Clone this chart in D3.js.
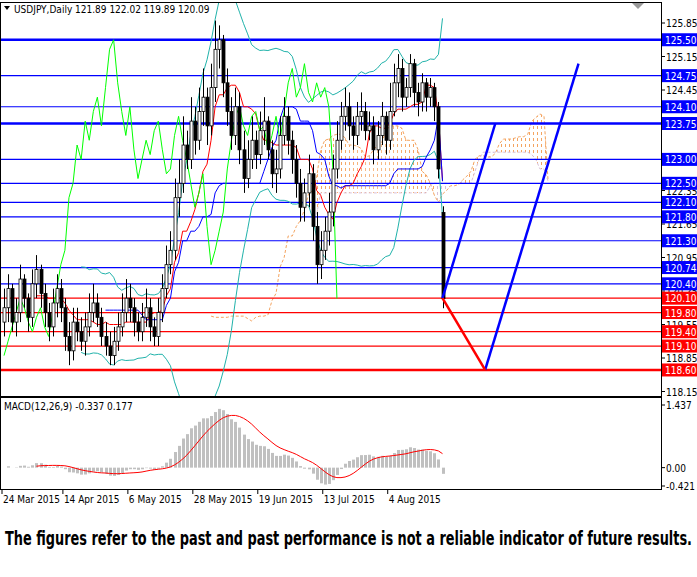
<!DOCTYPE html>
<html><head><meta charset="utf-8">
<script src="https://cdn.jsdelivr.net/npm/d3@7"></script>
<style>body{margin:0;background:#fff}svg{display:block}text{font-family:"DejaVu Sans Condensed","Liberation Sans Narrow",sans-serif}</style>
</head><body><svg id="c" width="697" height="577"></svg>
<script>
const opens=[119.6,119.9,120.3,119.6,119.8,120.5,120.1,119.7,120.4,120.7,120.2,119.8,119.5,120.0,120.3,119.9,119.3,119.0,119.6,119.4,119.2,119.5,119.8,120.0,119.7,119.3,119.1,118.9,119.2,119.5,119.8,120.1,119.9,119.6,119.4,119.7,119.9,119.5,119.3,119.8,120.3,120.8,121.1,122.2,122.5,123.3,123.0,123.8,123.4,124.0,124.3,123.7,124.5,125.3,125.5,124.6,124.0,123.5,124.1,123.2,122.6,123.0,123.4,123.1,123.6,123.8,123.2,122.7,122.8,123.5,123.9,123.4,123.0,122.5,122.0,122.3,122.7,121.6,120.8,121.1,121.5,121.9,122.8,123.4,123.9,124.1,123.7,123.5,123.9,124.0,123.6,123.7,123.2,123.5,123.9,123.4,124.0,124.6,124.9,124.3,124.5,125.0,124.4,124.2,124.6,124.3,124.5,124.1,121.89];
const highs=[120.3,120.6,120.4,120.1,120.8,120.6,120.2,120.7,121.0,120.8,120.4,120.0,120.3,120.6,120.5,120.1,119.6,119.9,119.9,119.7,119.8,120.2,120.4,120.2,119.9,119.6,119.4,119.5,119.8,120.2,120.5,120.4,120.1,119.8,120.0,120.3,120.1,119.7,120.1,120.6,121.2,121.5,122.6,123.0,123.9,123.6,124.3,124.1,124.5,124.9,124.5,125.0,125.9,125.8,125.6,124.9,124.3,124.5,124.4,123.6,123.4,123.9,123.6,124.0,124.3,123.9,123.4,123.2,123.9,124.3,124.1,123.6,123.3,122.8,122.6,123.1,122.9,121.9,121.5,121.8,122.3,123.1,123.8,124.2,124.5,124.4,123.9,124.2,124.4,124.2,124.0,123.9,123.8,124.2,124.0,124.6,125.0,125.2,125.1,124.7,125.2,125.1,124.6,124.8,124.7,124.7,124.6,124.2,122.02];
const lows=[119.3,119.6,119.4,119.3,119.6,119.9,119.4,119.5,120.1,119.9,119.5,119.2,119.3,119.7,119.6,119.0,118.7,118.8,119.2,119.0,118.9,119.3,119.6,119.5,119.1,118.9,118.7,118.7,119.0,119.3,119.6,119.6,119.3,119.2,119.2,119.5,119.2,119.1,119.1,119.6,120.1,120.6,120.9,121.8,122.3,122.8,122.8,123.1,123.2,123.7,123.3,123.5,124.2,124.9,124.3,123.7,123.2,123.3,122.9,122.3,122.4,122.8,122.8,122.9,123.3,123.0,122.4,122.3,122.6,123.3,123.1,122.7,122.2,121.7,121.7,122.0,121.3,120.4,120.5,120.9,121.2,121.6,122.6,123.2,123.6,123.4,123.2,123.3,123.6,123.4,123.4,122.9,123.0,123.3,123.1,123.2,123.9,124.3,124.0,124.1,124.3,124.1,123.9,124.0,124.0,124.1,123.8,122.6,119.89];
const closes=[119.9,120.3,119.6,119.8,120.5,120.1,119.7,120.4,120.7,120.2,119.8,119.5,120.0,120.3,119.9,119.3,119.0,119.6,119.4,119.2,119.5,119.8,120.0,119.7,119.3,119.1,118.9,119.2,119.5,119.8,120.1,119.9,119.6,119.4,119.7,119.9,119.5,119.3,119.8,120.3,120.8,121.1,122.2,122.5,123.3,123.0,123.8,123.4,124.0,124.3,123.7,124.5,125.3,125.5,124.6,124.0,123.5,124.1,123.2,122.6,123.0,123.4,123.1,123.6,123.8,123.2,122.7,122.8,123.5,123.9,123.4,123.0,122.5,122.0,122.3,122.7,121.6,120.8,121.1,121.5,121.9,122.8,123.4,123.9,124.1,123.7,123.5,123.9,124.0,123.6,123.7,123.2,123.5,123.9,123.4,124.0,124.6,124.9,124.3,124.5,125.0,124.4,124.2,124.6,124.3,124.5,124.1,122.8,120.09];
const dateLabels=["24 Mar 2015","14 Apr 2015","6 May 2015","28 May 2015","19 Jun 2015","13 Jul 2015","4 Aug 2015"];
const dateIdx=[0,15,31,47,63,79,95];
const axisTicks=[125.85,125.15,124.45,122.35,121.65,120.95,120.25,119.55,118.85,118.15];
const blueLevels=[125.50,124.75,124.10,123.75,123.00,122.50,122.10,121.80,121.30,120.74,120.40];
const redLevels=[120.10,119.80,119.40,119.10,118.60];
const thickLevels=[125.50,123.75,118.60];
const projBlue1=[[108,120.1],[121,123.75]];
const projRed=[[108,120.1],[118.5,118.6]];
const projBlue2=[[118.5,118.6],[141.5,125.0]];
const macdTicks=[1.437,0.00,-0.421];

const svg=d3.select("#c");
const x=d3.scaleLinear().domain([0,108]).range([4,442.5]);
const y=d3.scaleLinear().domain([118.15,125.85]).range([391.5,23]);
const ym=d3.scaleLinear().domain([-0.421,1.437]).range([486,405]);
const R=661, FS=10;
const defs=svg.append("defs");
function pat(id,col){const p=defs.append("pattern").attr("id",id).attr("width",4).attr("height",6).attr("patternUnits","userSpaceOnUse");
 p.append("rect").attr("x",1).attr("y",0).attr("width",1).attr("height",3).attr("fill",col);}
pat("pUp","#f4a460");pat("pDn","#d8bfd8");
const clip=defs.append("clipPath").attr("id","clipM");clip.append("rect").attr("x",1).attr("y",2).attr("width",R-1).attr("height",395);
const g=svg.append("g").attr("clip-path","url(#clipM)");

const N=closes.length;
function mid(i,p){let h=-1e9,l=1e9;for(let k=i-p+1;k<=i;k++){h=Math.max(h,highs[k]);l=Math.min(l,lows[k]);}return (h+l)/2;}
const tenkan=[],kijun=[];
for(let i=0;i<N;i++){tenkan.push(i>=8?mid(i,9):null);kijun.push(i>=25?mid(i,26):null);}
const spanA=[],spanB=[];
for(let i=0;i<N;i++){if(i>=25){spanA.push([i+26,(tenkan[i]+kijun[i])/2]);}if(i>=51){spanB.push([i+26,mid(i,52)]);}}
const bbU=[],bbL=[];
for(let i=19;i<N;i++){const s=closes.slice(i-19,i+1);const m=d3.mean(s),sd=Math.sqrt(d3.mean(s,v=>(v-m)**2));bbU.push([i,m+2*sd]);bbL.push([i,m-2*sd]);}
const line=d3.line().x(d=>x(d[0])).y(d=>y(d[1]));
const cloud=[];spanA.forEach(a=>{const b=spanB.find(v=>v[0]===a[0]);if(b)cloud.push([a[0],a[1],b[1]]);});
for(let k=0;k<cloud.length-1;k++){const c=cloud[k],n=cloud[k+1];
 g.append("path").attr("d",`M${x(c[0])},${y(c[1])}L${x(n[0])},${y(n[1])}L${x(n[0])},${y(n[2])}L${x(c[0])},${y(c[2])}Z`).attr("fill",c[1]>=c[2]?"url(#pUp)":"url(#pDn)");}
g.append("path").attr("d",line(spanA)).attr("fill","none").attr("stroke","#f4a460").attr("stroke-dasharray","3,2");
g.append("path").attr("d",line(spanB)).attr("fill","none").attr("stroke","#d8bfd8").attr("stroke-dasharray","3,2");
blueLevels.forEach(v=>g.append("line").attr("x1",0).attr("x2",R).attr("y1",y(v)).attr("y2",y(v)).attr("stroke","#0000ff").attr("stroke-width",thickLevels.includes(v)?2.5:1.2));
redLevels.forEach(v=>g.append("line").attr("x1",0).attr("x2",R).attr("y1",y(v)).attr("y2",y(v)).attr("stroke","#ff0000").attr("stroke-width",thickLevels.includes(v)?2.5:1.2));
g.append("path").attr("d",line(bbU)).attr("fill","none").attr("stroke","#20b2aa");
g.append("path").attr("d",line(bbL)).attr("fill","none").attr("stroke","#20b2aa");
g.append("path").attr("d",line(tenkan.map((v,i)=>[i,v]).filter(d=>d[1]!=null))).attr("fill","none").attr("stroke","#ff0000");
g.append("path").attr("d",line(kijun.map((v,i)=>[i,v]).filter(d=>d[1]!=null))).attr("fill","none").attr("stroke","#0000ff");
g.append("path").attr("d",line(closes.map((v,i)=>[i-26,v]).filter(d=>d[0]>=0))).attr("fill","none").attr("stroke","#00ff00");
closes.forEach((c,i)=>{const o=opens[i],cx=Math.round(x(i))+0.5;
 g.append("line").attr("x1",cx).attr("x2",cx).attr("y1",y(highs[i])).attr("y2",y(lows[i])).attr("stroke","#000");
 const t=y(Math.max(o,c)),b=y(Math.min(o,c));
 g.append("rect").attr("x",cx-1.5).attr("y",t).attr("width",3).attr("height",Math.max(1,b-t)).attr("fill",c<o?"#000":"#fff").attr("stroke","#000").attr("stroke-width",0.8);});
g.append("path").attr("d",line(projBlue1)).attr("stroke","#0000ff").attr("stroke-width",2.5).attr("fill","none");
g.append("path").attr("d",line(projBlue2)).attr("stroke","#0000ff").attr("stroke-width",2.5).attr("fill","none");
g.append("path").attr("d",line(projRed)).attr("stroke","#ff0000").attr("stroke-width",2.5).attr("fill","none");
svg.append("rect").attr("x",0.5).attr("y",2.5).attr("width",R).attr("height",394).attr("fill","none").attr("stroke","#000");
svg.append("rect").attr("x",0.5).attr("y",397.5).attr("width",R).attr("height",92).attr("fill","none").attr("stroke","#000");
axisTicks.forEach(v=>{svg.append("line").attr("x1",R).attr("x2",R+4).attr("y1",y(v)).attr("y2",y(v)).attr("stroke","#000");
 svg.append("text").attr("x",R+5).attr("y",y(v)+4).attr("font-size",FS).text(v.toFixed(2));});
function lab(v,col){svg.append("rect").attr("x",R+1).attr("y",y(v)-6.5).attr("width",35).attr("height",13).attr("fill",col);
 svg.append("text").attr("x",R+4).attr("y",y(v)+4).attr("font-size",FS).attr("fill","#fff").text(v.toFixed(2));}
blueLevels.forEach(v=>lab(v,"#0000ff"));redLevels.forEach(v=>lab(v,"#ff0000"));
svg.append("path").attr("d","M4,6L10,6L7,10Z").attr("fill","#000");
svg.append("text").attr("x",14).attr("y",13).attr("font-size",FS).text("USDJPY,Daily  121.89 122.02 119.89 120.09");
svg.append("path").attr("d","M632,3L644,3L638,9Z").attr("fill","#999");
const e=(p)=>{const k=2/(p+1);let r=[];closes.forEach((v,i)=>r.push(i?v*k+r[i-1]*(1-k):v));return r;};
const e12=e(12),e26=e(26);const macd=closes.map((v,i)=>e12[i]-e26[i]);
const sig=macd.map((v,i)=>i>=8?d3.mean(macd.slice(i-8,i+1)):null);
macd.forEach((v,i)=>{const cx=Math.round(x(i));svg.append("rect").attr("x",cx-1).attr("y",Math.min(ym(v),ym(0))).attr("width",3).attr("height",Math.abs(ym(v)-ym(0))).attr("fill","#c0c0c0");});
svg.append("path").attr("d",d3.line().x(d=>x(d[0])).y(d=>ym(d[1]))(sig.map((v,i)=>[i,v]).filter(d=>d[1]!=null))).attr("fill","none").attr("stroke","#ff0000");
svg.append("text").attr("x",4).attr("y",410).attr("font-size",FS).text("MACD(12,26,9) -0.337 0.177");
macdTicks.forEach(v=>{svg.append("line").attr("x1",R).attr("x2",R+4).attr("y1",ym(v)).attr("y2",ym(v)).attr("stroke","#000");
 svg.append("text").attr("x",R+5).attr("y",ym(v)+4).attr("font-size",FS).text(v===0?"0.00":v.toFixed(3));});
dateIdx.forEach((d,k)=>{const px=x(d)-2;svg.append("line").attr("x1",px).attr("x2",px).attr("y1",490).attr("y2",494).attr("stroke","#000");
 svg.append("text").attr("x",px+1).attr("y",503).attr("font-size",FS).text(dateLabels[k]);});
svg.append("text").attr("x",5).attr("y",545).attr("font-size",19).attr("font-weight","bold").attr("textLength",687).attr("lengthAdjust","spacingAndGlyphs").text("The figures refer to the past and past performance is not a reliable indicator of future results.");
</script></body></html>
